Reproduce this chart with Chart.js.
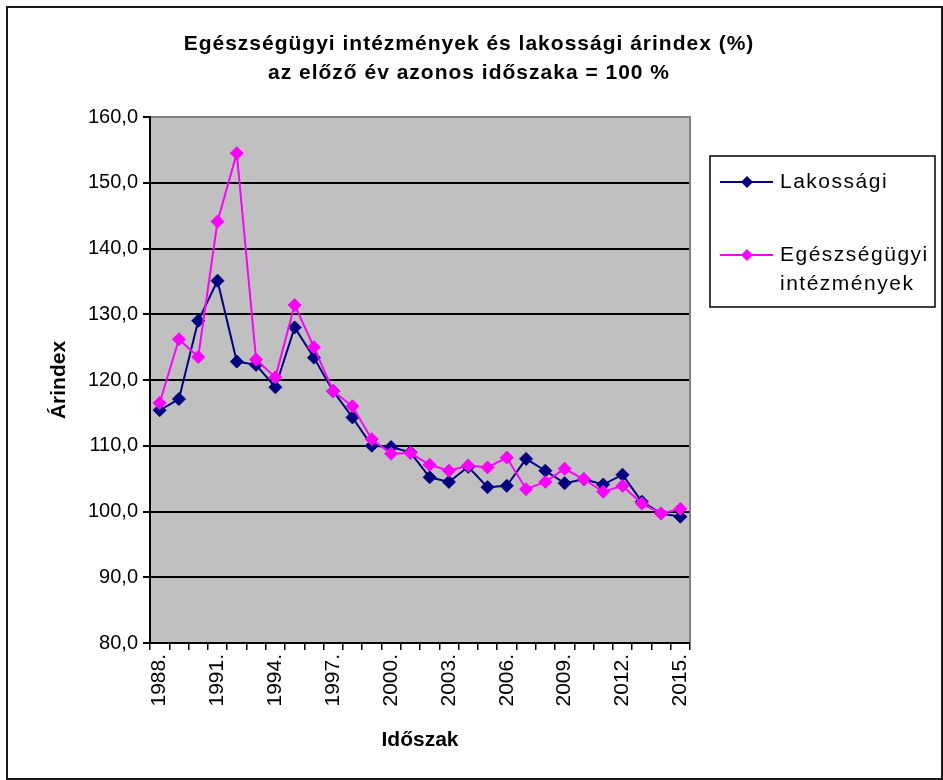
<!DOCTYPE html>
<html lang="hu">
<head>
<meta charset="utf-8">
<title>Egészségügyi intézmények és lakossági árindex</title>
<script src="https://cdn.jsdelivr.net/npm/chart.js@4.4.1/dist/chart.umd.min.js"></script>
<style>
  html, body { margin: 0; padding: 0; background: #fff; }
  canvas { display: block; }
</style>
</head>
<body>
<canvas id="chart" width="943" height="780"></canvas>
<script>
// data
const years = [1988, 1989, 1990, 1991, 1992, 1993, 1994, 1995, 1996, 1997,
  1998, 1999, 2000, 2001, 2002, 2003, 2004, 2005, 2006, 2007,
  2008, 2009, 2010, 2011, 2012, 2013, 2014, 2015];
const lakossagi = [115.4, 117.1, 129.0, 135.1, 122.8, 122.3, 118.9, 128.0, 123.4, 118.3,
  114.3, 110.0, 109.8, 109.0, 105.2, 104.5, 106.8, 103.7, 103.9, 108.0,
  106.2, 104.3, 104.9, 104.1, 105.6, 101.5, 99.7, 99.2];
const egeszsegugyi = [116.5, 126.2, 123.5, 144.1, 154.5, 123.1, 120.4, 131.4, 125.0, 118.3,
  116.0, 111.0, 108.8, 108.9, 107.1, 106.2, 107.0, 106.7, 108.2, 103.4,
  104.5, 106.5, 104.9, 103.0, 103.9, 101.2, 99.7, 100.4];
const seriesNames = ['Lakossági', 'Egészségügyi intézmények'];
const seriesColors = ['#000080', '#FF00FF'];
const titleLines = ['Egészségügyi intézmények és lakossági árindex (%)',
  'az előző év azonos időszaka = 100 %'];
const yTitle = 'Árindex';
const xTitle = 'Időszak';

const FONT = '"Liberation Sans", Arial, sans-serif';
const labels = years.map(y => y + '.');

// Excel-like frame, grey plot area, title and legend
const excelLook = {
  id: 'excelLook',
  beforeDraw(chart) {
    const { ctx, chartArea: a } = chart;
    ctx.save();
    ctx.fillStyle = '#fff';
    ctx.fillRect(0, 0, chart.width, chart.height);
    ctx.strokeStyle = '#1a1a1a';
    ctx.lineWidth = 2;
    ctx.strokeRect(7, 7, chart.width - 8, chart.height - 8);
    ctx.fillStyle = '#C0C0C0';
    ctx.fillRect(a.left, a.top, a.right - a.left, a.bottom - a.top);
    ctx.restore();
  },
  beforeDatasetsDraw(chart) {
    const { ctx, chartArea: a } = chart;
    ctx.save();
    ctx.strokeStyle = '#808080';
    ctx.lineWidth = 2;
    ctx.beginPath();
    ctx.moveTo(a.left + 1, a.top);
    ctx.lineTo(a.right, a.top);
    ctx.lineTo(a.right, a.bottom - 1);
    ctx.stroke();
    ctx.restore();
  },
  afterDraw(chart) {
    const { ctx } = chart;
    ctx.save();
    // main title
    ctx.fillStyle = '#000';
    ctx.textAlign = 'center';
    ctx.textBaseline = 'middle';
    ctx.font = 'bold 21px ' + FONT;
    ctx.letterSpacing = '1px';
    titleLines.forEach((t, i) => ctx.fillText(t, 469, 44 + i * 29));

    // legend box
    ctx.letterSpacing = '1.5px';
    ctx.strokeStyle = '#000';
    ctx.lineWidth = 1.5;
    ctx.strokeRect(710, 156, 225, 151);
    ctx.font = '21px ' + FONT;
    ctx.textAlign = 'left';
    const rows = [182, 255];
    chart.data.datasets.forEach((ds, i) => {
      const y = rows[i];
      ctx.strokeStyle = ds.borderColor;
      ctx.lineWidth = 2;
      ctx.beginPath();
      ctx.moveTo(720, y);
      ctx.lineTo(773, y);
      ctx.stroke();
      ctx.fillStyle = ds.pointBackgroundColor;
      Chart.helpers.drawPoint(ctx, { pointStyle: 'rectRot', radius: 6, rotation: 0 }, 747, y);
      ctx.fillStyle = '#000';
      seriesNames[i].split(' ').forEach((line, j) => ctx.fillText(line, 780, y + j * 29));
    });
    ctx.restore();
  }
};

const makeSeries = (data, i) => ({
  label: seriesNames[i],
  data: data,
  borderColor: seriesColors[i],
  backgroundColor: seriesColors[i],
  pointBackgroundColor: seriesColors[i],
  pointBorderColor: seriesColors[i],
  pointStyle: 'rectRot',
  pointRadius: 6.5,
  pointBorderWidth: 1,
  borderWidth: 2,
  tension: 0,
  order: 1 - i // pink drawn on top
});

new Chart(document.getElementById('chart'), {
  type: 'line',
  data: {
    labels: labels,
    datasets: [makeSeries(lakossagi, 0), makeSeries(egeszsegugyi, 1)]
  },
  options: {
    responsive: false,
    animation: false,
    layout: { padding: { top: 117, right: 253, left: 0, bottom: 0 } },
    plugins: {
      legend: { display: false },
      tooltip: { enabled: false },
      title: { display: false }
    },
    scales: {
      x: {
        offset: true,
        afterFit(scale) { scale.height = 137; },
        grid: { offset: true, drawOnChartArea: false, drawTicks: true, tickLength: 7, color: '#000', lineWidth: 1.5 },
        border: { color: '#000', width: 2 },
        ticks: {
          autoSkip: false,
          minRotation: 90,
          maxRotation: 90,
          padding: 4,
          color: '#000',
          font: { family: FONT, size: 21 },
          callback: (v, i) => (i % 3 === 0 ? labels[i] : '')
        },
        title: {
          display: true,
          text: xTitle,
          color: '#000',
          font: { family: FONT, size: 21, weight: 'bold' },
          padding: { top: 0, bottom: 27 }
        }
      },
      y: {
        min: 80,
        max: 160,
        afterFit(scale) { scale.width = 150; },
        grid: { color: '#000', lineWidth: 2, tickLength: 7 },
        border: { color: '#000', width: 2 },
        ticks: {
          stepSize: 10,
          padding: 5,
          color: '#000',
          font: { family: FONT, size: 20 },
          callback: v => v.toFixed(1).replace('.', ',')
        },
        title: {
          display: true,
          text: yTitle,
          color: '#000',
          font: { family: FONT, size: 21, weight: 'bold' },
          padding: { top: 47, bottom: 0 }
        }
      }
    }
  },
  plugins: [excelLook]
});
</script>
</body>
</html>
